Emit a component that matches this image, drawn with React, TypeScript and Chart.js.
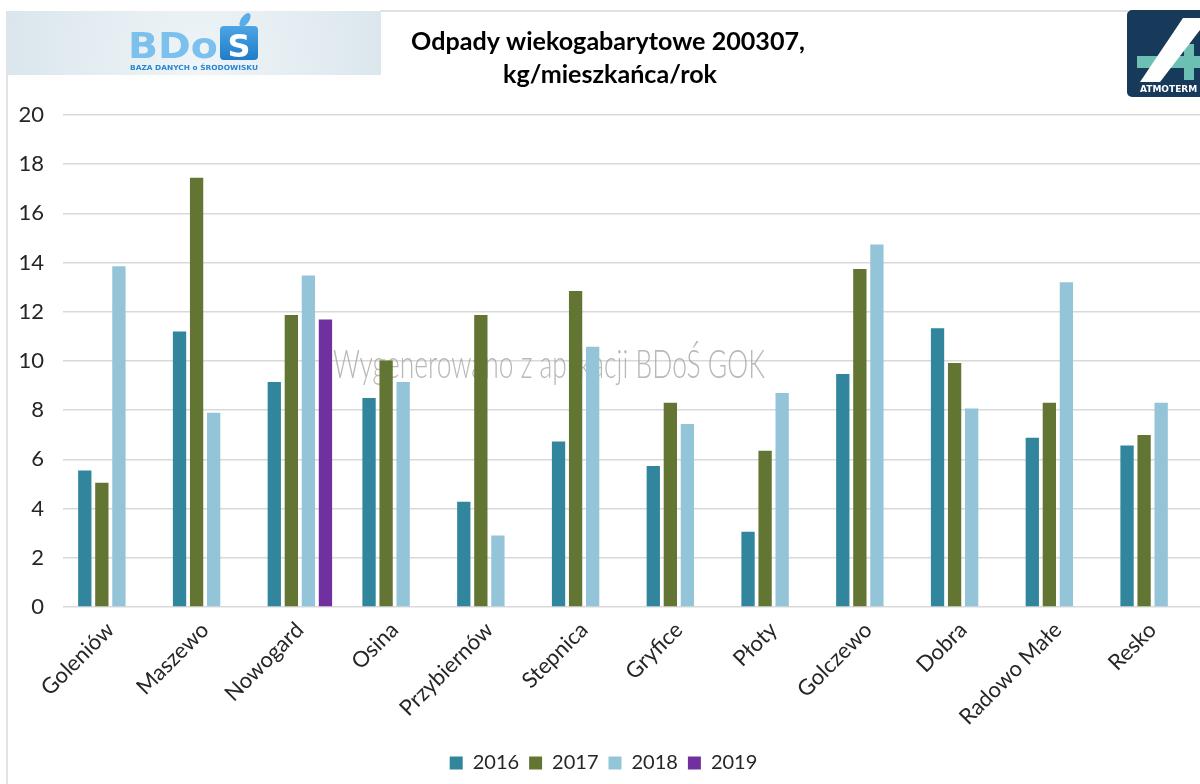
import React, { useEffect, useRef } from "react";
import { Chart, registerables } from "chart.js";

Chart.register(...registerables);

const categories = [
  "Goleniów",
  "Maszewo",
  "Nowogard",
  "Osina",
  "Przybiernów",
  "Stepnica",
  "Gryfice",
  "Płoty",
  "Golczewo",
  "Dobra",
  "Radowo Małe",
  "Resko",
];
const values2016 = [5.55, 11.2, 9.15, 8.5, 4.28, 6.73, 5.73, 3.06, 9.47, 11.33, 6.88, 6.57];
const values2017 = [5.05, 17.45, 11.87, 10.02, 11.87, 12.85, 8.3, 6.35, 13.74, 9.92, 8.3, 6.99];
const values2018 = [13.85, 7.9, 13.48, 9.15, 2.91, 10.58, 7.44, 8.7, 14.74, 8.07, 13.2, 8.3];
const values2019 = [null, null, 11.69, null, null, null, null, null, null, null, null, null];
const seriesLabels = ["2016", "2017", "2018", "2019"];
const seriesColors = ["#31859C", "#637532", "#93C4D7", "#7030A0"];
const yMin = 0;
const yMax = 20;
const yStep = 2;
const titleLines = ["Odpady wiekogabarytowe 200307,", "kg/mieszkańca/rok"];
const watermarkText = "Wygenerowano z aplikacji BDoŚ GOK";

const FONT = "Lato, 'Open Sans', sans-serif";

function fitText(ctx: CanvasRenderingContext2D, text: string, weight: string, baseSize: number, targetWidth: number) {
  ctx.font = `${weight} ${baseSize}px ${FONT}`;
  const w = ctx.measureText(text).width;
  return baseSize * (targetWidth / w);
}

const decorPlugin = {
  id: "decor",
  beforeDraw(chart: any) {
    const ctx: CanvasRenderingContext2D = chart.ctx;
    ctx.save();
    ctx.fillStyle = "#ffffff";
    ctx.fillRect(0, 0, chart.width, chart.height);

    // frame lines
    ctx.strokeStyle = "#D9D9D9";
    ctx.lineWidth = 1.5;
    ctx.beginPath();
    ctx.moveTo(7, 11);
    ctx.lineTo(7, chart.height);
    ctx.moveTo(380, 11);
    ctx.lineTo(1128, 11);
    ctx.stroke();

    // left BDoS logo box
    const g = ctx.createRadialGradient(200, 70, 10, 200, 50, 260);
    g.addColorStop(0, "#EEF4F7");
    g.addColorStop(1, "#D3E1E9");
    ctx.fillStyle = g;
    ctx.fillRect(7, 11, 374, 64);

    const tg = ctx.createLinearGradient(0, 30, 0, 60);
    tg.addColorStop(0, "#7CC0EE");
    tg.addColorStop(1, "#1C78C6");
    ctx.fillStyle = tg;
    ctx.font = `bold 36px 'DejaVu Sans', sans-serif`;
    ctx.textBaseline = "alphabetic";
    ctx.textAlign = "left";
    const bw = ctx.measureText("BDo").width;
    ctx.save();
    ctx.translate(128, 58);
    ctx.scale(90 / bw, 1);
    ctx.fillText("BDo", 0, 0);
    ctx.restore();

    // S box
    const sg = ctx.createLinearGradient(0, 25, 0, 60);
    sg.addColorStop(0, "#4FA6E6");
    sg.addColorStop(1, "#1F7CC8");
    ctx.fillStyle = sg;
    ctx.beginPath();
    (ctx as any).roundRect(220, 26, 38, 34, 4);
    ctx.fill();
    // leaf
    ctx.fillStyle = "#5AAEE8";
    ctx.beginPath();
    ctx.ellipse(245, 20, 4, 8, 0.6, 0, Math.PI * 2);
    ctx.fill();
    ctx.fillStyle = "#ffffff";
    ctx.font = `bold 32px 'DejaVu Sans', sans-serif`;
    ctx.textAlign = "center";
    ctx.fillText("S", 239, 57);
    ctx.fillStyle = "#2A86D0";
    ctx.font = `bold 7px 'DejaVu Sans', sans-serif`;
    ctx.textAlign = "left";
    const sub = "BAZA DANYCH o ŚRODOWISKU";
    const sw = ctx.measureText(sub).width;
    ctx.save();
    ctx.translate(130, 70);
    ctx.scale(128 / sw, 1);
    ctx.fillText(sub, 0, 0);
    ctx.restore();

    // right ATMOTERM logo
    ctx.fillStyle = "#17395A";
    ctx.beginPath();
    (ctx as any).roundRect(1127, 10, 90, 87, 5);
    ctx.fill();
    ctx.fillStyle = "#6DBFB3";
    ctx.fillRect(1137, 56, 70, 12);
    ctx.fillRect(1184, 44, 10, 36);
    ctx.fillStyle = "#ffffff";
    ctx.beginPath();
    ctx.moveTo(1140, 82);
    ctx.lineTo(1183, 18);
    ctx.lineTo(1200, 18);
    ctx.lineTo(1200, 30);
    ctx.lineTo(1160, 82);
    ctx.closePath();
    ctx.fill();
    ctx.font = `bold 9px 'DejaVu Sans', sans-serif`;
    ctx.fillText("ATMOTERM", 1140, 92);

    // title
    ctx.fillStyle = "#000000";
    ctx.textAlign = "center";
    ctx.textBaseline = "middle";
    const ts = fitText(ctx, titleLines[0], "bold", 22, 394);
    ctx.font = `bold ${ts}px ${FONT}`;
    ctx.fillText(titleLines[0], 608, 42);
    ctx.fillText(titleLines[1], 610, 75);
    ctx.restore();
  },
  beforeDatasetsDraw(chart: any) {
    const ctx: CanvasRenderingContext2D = chart.ctx;
    ctx.save();
    ctx.font = `300 37px ${FONT}`;
    const w = ctx.measureText(watermarkText).width;
    ctx.fillStyle = "rgba(160,160,160,0.75)";
    ctx.textAlign = "left";
    ctx.textBaseline = "alphabetic";
    ctx.translate(333, 378);
    ctx.scale(432 / w, 1.05);
    ctx.fillText(watermarkText, 0, 0);
    ctx.restore();
  },
};

export default function App() {
  const canvasRef = useRef<HTMLCanvasElement | null>(null);

  useEffect(() => {
    document.body.style.margin = "0";
    const canvas = canvasRef.current;
    if (!canvas) return;
    const allValues = [values2016, values2017, values2018, values2019];
    const chart = new Chart(canvas, {
      type: "bar",
      data: {
        labels: categories,
        datasets: allValues.map((vals, i) => ({
          label: seriesLabels[i],
          data: vals as any,
          backgroundColor: seriesColors[i],
          borderWidth: 0,
          barPercentage: 0.78,
          categoryPercentage: 0.72,
        })),
      },
      options: {
        responsive: false,
        animation: false,
        devicePixelRatio: 1,
        layout: { padding: { left: 7, right: 0, top: 115, bottom: 1 } },
        plugins: {
          title: { display: false },
          tooltip: { enabled: false },
          legend: {
            position: "bottom",
            align: "center",
            labels: {
              boxWidth: 13,
              boxHeight: 13,
              padding: 10,
              color: "#262626",
              font: { family: FONT, size: 20 },
            },
          },
        },
        scales: {
          x: {
            grid: { display: false, drawTicks: false },
            border: { display: false },
            ticks: {
              minRotation: 45,
              maxRotation: 45,
              autoSkip: false,
              padding: 10,
              color: "#262626",
              font: { family: FONT, size: 22 },
            },
            afterFit: (scale: any) => {
              scale.height = 136;
            },
          },
          y: {
            min: yMin,
            max: yMax,
            grid: { color: "#D9D9D9", lineWidth: 1.5, drawTicks: false },
            border: { display: false },
            ticks: {
              stepSize: yStep,
              padding: 19,
              color: "#262626",
              font: { family: FONT, size: 22 },
            },
            afterFit: (scale: any) => {
              scale.width = 56;
            },
          },
        },
      },
      plugins: [decorPlugin],
    });
    return () => chart.destroy();
  }, []);

  return (
    <div style={{ position: "absolute", left: 0, top: 0, width: 1200, height: 784, background: "#fff" }}>
      <canvas ref={canvasRef} width={1200} height={784} style={{ display: "block", width: 1200, height: 784 }} />
    </div>
  );
}
